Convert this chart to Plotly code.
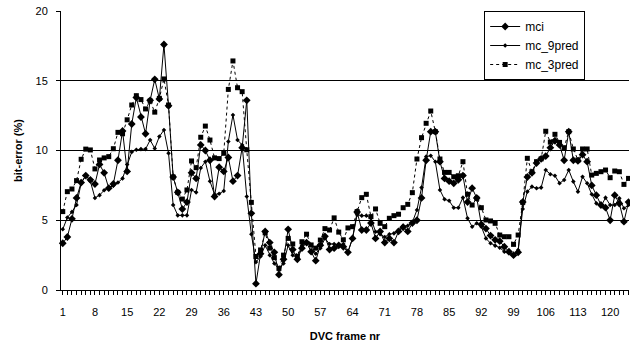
import plotly.graph_objects as go

frames = list(range(1, 125))

mci = [3.35, 3.8, 5.1, 6.6, 7.7, 8.2, 7.9, 7.6, 9.0, 8.4,
       7.3, 7.6, 9.3, 11.4, 8.5, 11.9, 13.8, 12.4, 11.2, 13.6,
       15.1, 13.7, 17.6, 13.2, 8.1, 7.0, 5.8, 6.3, 8.4, 8.0,
       10.4, 10.0, 9.3, 6.7, 8.8, 8.5, 9.5, 7.8, 8.2, 10.2,
       13.6, 5.5, 0.45, 2.6, 4.2, 3.4, 2.7, 1.1, 2.2, 4.35,
       2.9, 2.2, 3.0, 3.4, 2.75, 2.1, 3.2, 3.85, 2.9, 3.0,
       3.2, 3.1, 2.7, 3.7, 5.6, 4.3, 4.3, 4.8, 3.7, 4.2,
       3.4, 3.7, 3.4, 4.2, 4.5, 4.2, 4.8, 5.0, 6.6, 9.3,
       11.35, 11.35, 9.2, 8.0, 7.8, 7.65, 7.9, 8.2, 6.3, 7.3,
       6.6, 4.7, 4.4, 3.9, 3.6, 3.5, 3.1, 2.75, 2.5, 2.7,
       6.3, 8.1, 8.4, 9.1, 9.4, 9.6, 10.2, 10.7, 10.4, 9.3,
       11.35, 9.3, 9.25, 9.7, 9.2, 7.5, 6.8, 6.1, 5.9, 5.0,
       6.8, 6.2, 4.9, 6.3]

mc_9pred = [4.35, 5.2, 5.6, 6.1, 7.65, 8.2, 7.8, 6.6, 6.8, 7.15,
            7.3, 7.5, 7.7, 8.0, 9.0, 9.9, 10.05, 10.1, 10.1, 10.75,
            10.15, 11.0, 11.47, 9.8, 6.1, 5.35, 5.35, 5.35, 7.17, 7.0,
            8.75, 9.2, 7.8, 6.85, 6.9, 7.1, 10.65, 12.55, 10.75, 10.4,
            6.7, 4.0, 2.0, 2.4, 3.2, 2.5, 1.9, 1.5, 1.9, 3.2,
            2.5, 2.3, 3.2, 3.35, 3.2, 2.6, 3.0, 3.7, 3.3, 3.3,
            3.2, 3.3, 2.75, 3.7, 5.4, 5.33, 5.33, 5.14, 4.18, 4.0,
            3.8, 4.0, 4.06, 4.3, 4.6, 4.6, 4.85, 5.74, 7.34, 9.56,
            9.63, 9.2, 7.17, 6.5, 6.4, 5.9, 5.9, 6.62, 5.14, 4.54,
            4.78, 4.54, 3.7, 3.35, 3.18, 3.03, 2.75, 2.63, 2.46, 2.87,
            5.81, 7.05, 7.41, 7.29, 7.34, 8.6, 8.3, 8.19, 7.65, 7.89,
            8.6, 7.77, 7.05, 8.12, 7.65, 6.86, 6.21, 5.98, 6.62, 6.09,
            6.09, 6.57, 5.86, 6.09]

mc_3pred = [5.62, 7.05, 7.24, 7.84, 9.37, 10.1, 10.04, 8.68, 9.32, 9.47,
            9.56, 10.13, 11.3, 11.2, 12.2, 13.26, 13.93, 13.65, 12.98, 13.55,
            12.75, 13.74, 15.13, 13.26, 8.1, 7.0, 6.52, 7.17, 9.25, 8.77,
            10.95, 11.75, 10.75, 9.47, 9.42, 9.8, 14.38, 16.42, 14.5, 14.22,
            10.05, 6.28, 2.4, 2.87, 4.1, 3.0, 2.32, 1.55, 2.5, 3.7,
            3.3, 2.4, 3.46, 4.0, 3.23, 3.0, 3.58, 4.4, 4.3, 5.17,
            4.15, 3.6, 4.45, 4.54, 5.62, 6.62, 6.86, 5.26, 5.81, 4.78,
            4.54, 5.14, 5.33, 5.43, 5.9, 6.14, 6.98, 9.39, 10.92, 11.95,
            12.83, 11.35, 9.39, 8.43, 8.43, 8.12, 8.19, 9.2, 6.86, 6.09,
            6.57, 5.9, 5.02, 4.95, 4.78, 3.94, 3.82, 3.82, 3.27, 3.94,
            6.28, 9.44, 8.48, 9.2, 9.4, 11.38, 10.6, 11.16, 10.58, 10.2,
            11.35, 10.11, 9.32, 10.11, 10.11, 8.24, 8.36, 8.48, 8.6, 8.05,
            8.53, 8.48, 7.57, 8.0]

tick_vals = list(range(1, 125, 7))
tick_text = [str(v) for v in tick_vals]

FONT = "Liberation Sans, Arial, sans-serif"

fig = go.Figure()
fig.add_trace(go.Scatter(
    x=frames, y=mci, name="mci", mode="lines+markers",
    line=dict(color="black", width=1),
    marker=dict(symbol="diamond", size=6, color="black"),
    cliponaxis=False))
fig.add_trace(go.Scatter(
    x=frames, y=mc_9pred, name="mc_9pred", mode="lines+markers",
    line=dict(color="black", width=1),
    marker=dict(symbol="diamond", size=3.5, color="black"),
    cliponaxis=False))
fig.add_trace(go.Scatter(
    x=frames, y=mc_3pred, name="mc_3pred", mode="lines+markers",
    line=dict(color="black", width=1, dash="dot"),
    marker=dict(symbol="square", size=5, color="black"),
    cliponaxis=False))

fig.update_layout(
    width=630, height=347,
    margin=dict(l=61, r=1, t=11, b=57, autoexpand=False),
    paper_bgcolor="white", plot_bgcolor="white",
    font=dict(family=FONT, size=11, color="black"),
    showlegend=True,
    legend=dict(
        x=0.745, y=1.0, xanchor="left", yanchor="top",
        bgcolor="white", bordercolor="black", borderwidth=1,
        font=dict(family=FONT, size=12, color="black"),
        tracegroupgap=0, itemwidth=30,
    ),
)

fig.update_xaxes(
    range=[0.62, 124.1],
    tickmode="array", tickvals=tick_vals, ticktext=tick_text,
    ticks="outside", ticklen=4, tickcolor="black",
    minor=dict(dtick=1, tick0=1, ticks="outside", ticklen=4, tickcolor="black", showgrid=False),
    showline=True, linecolor="black", linewidth=1,
    showgrid=False, zeroline=False,
    ticklabelstandoff=8,
    tickfont=dict(family=FONT, size=11, color="black"),
    title=dict(text="<b>DVC frame nr</b>", font=dict(family=FONT, size=11, color="black"), standoff=15),
)
fig.update_yaxes(
    range=[0, 20], dtick=5,
    ticks="outside", ticklen=4, tickcolor="black",
    showline=True, linecolor="black", linewidth=1,
    showgrid=True, gridcolor="black", gridwidth=1,
    zeroline=False,
    ticklabelstandoff=6,
    tickfont=dict(family=FONT, size=11, color="black"),
    title=dict(text="<b>bit-error (%)</b>", font=dict(family=FONT, size=11, color="black"), standoff=10),
)

fig.write_html("out.html", config={"displayModeBar": False},
               post_script="document.body.style.margin='0';document.body.style.padding='0';")
